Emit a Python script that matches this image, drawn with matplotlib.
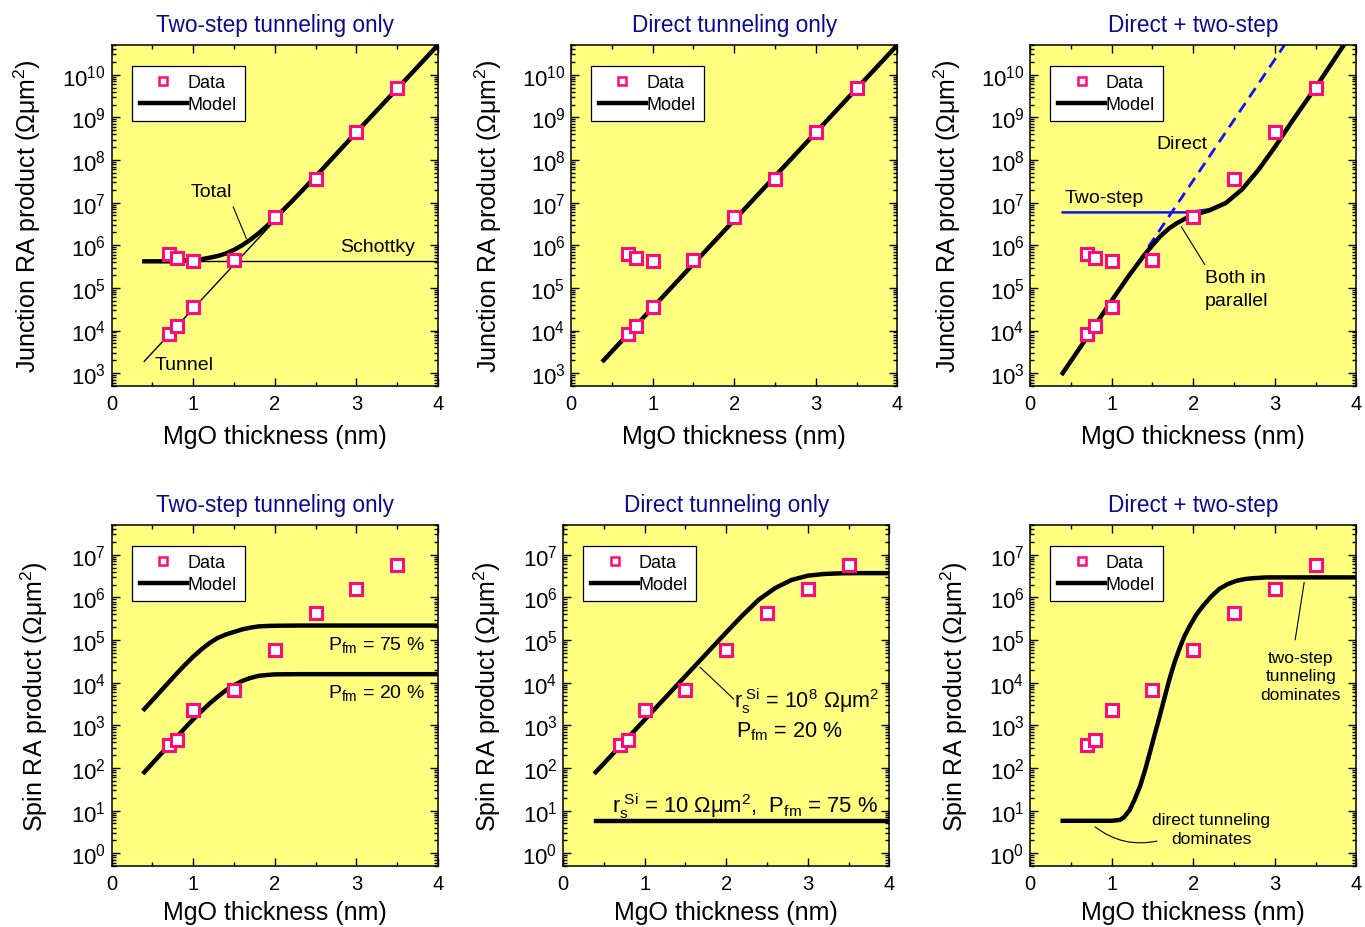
import numpy as np
import matplotlib
matplotlib.use("Agg")
import matplotlib.pyplot as plt
from matplotlib.ticker import LogLocator, MultipleLocator, NullFormatter

plt.rcParams['font.family'] = ['Liberation Sans', 'DejaVu Sans']
plt.rcParams['mathtext.fontset'] = 'custom'
plt.rcParams['mathtext.rm'] = 'Liberation Sans'
plt.rcParams['mathtext.it'] = 'Liberation Sans'

# measured data (same thicknesses for all panels)
t_data = [0.7, 0.8, 1.0, 1.5, 2.0, 2.5, 3.0, 3.5]
ra_upper = [6.4e5, 4.9e5, 4.2e5, 4.5e5, 4.6e6, 3.6e7, 4.6e8, 4.9e9]
t_lower = [0.7, 0.8, 1.0]
ra_lower = [8.4e3, 1.26e4, 3.5e4]
spin_data = [3.5e2, 4.6e2, 2.3e3, 6.8e3, 5.9e4, 4.4e5, 1.6e6, 5.7e6]

# top-left: two-step tunneling only
t_line = [0.4, 4.0]
tunnel_ra = [1.9e3, 5.0e10]
schottky_ra = [4.2e5, 4.2e5]
t_total = [0.4, 0.7, 1.0, 1.1, 1.2, 1.3, 1.4, 1.5, 1.6, 1.7, 1.8, 1.9, 2.0,
           2.2, 2.5, 3.0, 3.5, 4.0]
total_ra = [4.2e5, 4.2e5, 4.5e5, 4.7e5, 5.1e5, 5.6e5, 6.4e5, 7.8e5, 1.0e6,
            1.35e6, 1.9e6, 2.8e6, 4.3e6, 1.03e7, 4.1e7, 4.5e8, 4.7e9, 5.0e10]

# top-middle: direct tunneling only
direct_only_ra = [2.0e3, 5.0e10]

# top-right: direct + two-step
t_direct = [1.45, 3.12]
direct_ra = [9.1e5, 5.0e10]
t_twostep = [0.4, 1.9, 2.0, 2.2, 2.4, 2.6, 2.8, 3.0]
twostep_ra = [5.9e6, 5.9e6, 6.2e6, 7.0e6, 1.0e7, 2.1e7, 6.2e7, 2.1e8]
t_both = [0.4, 0.7, 1.0, 1.2, 1.4, 1.5, 1.6, 1.7, 1.8, 1.9, 2.0, 2.1, 2.2,
          2.4, 2.6, 2.8, 3.0, 3.2, 3.5, 3.84]
both_ra = [1.0e3, 7.0e3, 5.0e4, 1.8e5, 5.9e5, 1.0e6, 1.65e6, 2.45e6, 3.3e6,
           4.2e6, 5.1e6, 5.8e6, 6.6e6, 9.8e6, 2.05e7, 5.9e7, 2.0e8, 7.5e8,
           5.0e9, 4.8e10]

# bottom row curves, read as log10 of the spin RA product
t_spin1 = [0.4, 0.5, 0.6, 0.7, 0.8, 0.9, 1.0, 1.1, 1.2, 1.3, 1.4, 1.5, 1.6,
           1.7, 1.8, 1.9, 2.0, 2.3, 4.0]
spin75_log = [3.38, 3.59, 3.80, 4.01, 4.22, 4.42, 4.61, 4.78, 4.93, 5.05, 5.13,
              5.19, 5.25, 5.29, 5.32, 5.33, 5.335, 5.34, 5.34]
spin20_log = [1.90, 2.11, 2.32, 2.52, 2.73, 2.94, 3.14, 3.33, 3.51, 3.67, 3.82,
              3.94, 4.04, 4.11, 4.16, 4.18, 4.195, 4.20, 4.20]

t_spin2 = [0.4, 0.6, 0.8, 1.0, 1.2, 1.4, 1.6, 1.8, 2.0, 2.2, 2.4, 2.6, 2.8,
           3.0, 3.2, 3.4, 3.6, 4.0]
spin_rs8_log = [1.90, 2.31, 2.72, 3.13, 3.54, 3.95, 4.36, 4.77, 5.18, 5.58,
                5.95, 6.22, 6.41, 6.51, 6.55, 6.565, 6.57, 6.57]
spin_rs10 = [5.6, 5.6]

t_spin3 = [0.4, 1.0, 1.1, 1.15, 1.22, 1.28, 1.35, 1.41, 1.47, 1.53, 1.59,
           1.65, 1.71, 1.77, 1.83, 1.89, 1.96, 2.04, 2.12, 2.22, 2.32, 2.42,
           2.53, 2.63, 2.73, 2.9, 4.0]
spin_both_log = [0.76, 0.76, 0.78, 0.84, 1.01, 1.25, 1.58, 1.95, 2.37, 2.80,
                 3.22, 3.66, 4.09, 4.47, 4.79, 5.08, 5.34, 5.60, 5.80, 6.02,
                 6.20, 6.31, 6.39, 6.43, 6.45, 6.47, 6.47]

BG = '#FFFF80'
PINK = '#FF0A7D'
TITLE_C = '#0A0A8C'
BLUE = '#1010FF'

fig = plt.figure(figsize=(13.65, 9.28), dpi=100)
lefts_top = [0.0818, 0.4183, 0.7546]
lefts_bot = [0.0818, 0.4125, 0.7546]
W, H = 0.2391, 0.3675
axes = []
for bottom, lefts in [(0.583, lefts_top), (0.0657, lefts_bot)]:
    for l in lefts:
        axes.append(fig.add_axes([l, bottom, W, H]))

titles = ["Two-step tunneling only", "Direct tunneling only", "Direct + two-step"] * 2


def style(ax, ylim, ylabel, title, xpad, ypad):
    ax.set_facecolor(BG)
    ax.set_yscale('log')
    ax.set_xlim(0, 4)
    ax.set_ylim(*ylim)
    ax.xaxis.set_major_locator(MultipleLocator(1))
    ax.xaxis.set_minor_locator(MultipleLocator(0.5))
    ax.yaxis.set_major_locator(LogLocator(base=10, numticks=20))
    ax.yaxis.set_minor_locator(LogLocator(base=10, subs=np.arange(2, 10), numticks=20))
    ax.yaxis.set_minor_formatter(NullFormatter())
    ax.tick_params(which='both', direction='in', top=True, right=True, width=1)
    ax.tick_params(which='major', length=6)
    ax.tick_params(which='minor', length=3)
    ax.tick_params(axis='x', labelsize=14.5, pad=6)
    ax.tick_params(axis='y', labelsize=16, pad=4)
    for s in ax.spines.values():
        s.set_linewidth(1.1)
    ax.set_xlabel("MgO thickness (nm)", fontsize=18, labelpad=xpad)
    ax.set_ylabel(ylabel, fontsize=18, labelpad=ypad)
    ax.set_title(title, fontsize=16.3, color=TITLE_C, pad=10)


def data_and_legend(ax, t, y, t2=None, y2=None):
    ax.plot(t, y, 's', ms=9, mfc='white', mec=PINK, mew=2.2, zorder=6)
    if t2 is not None:
        ax.plot(t2, y2, 's', ms=9, mfc='white', mec=PINK, mew=2.2, zorder=6)
    h_data = plt.Line2D([], [], ls='none', marker='s', ms=6, mfc='white', mec=PINK, mew=1.8)
    h_model = plt.Line2D([], [], color='black', lw=3.2)
    leg = ax.legend([h_data, h_model], ['Data', 'Model'], loc='upper left',
                    bbox_to_anchor=(0.061, 0.939), fontsize=13, frameon=True,
                    fancybox=False, edgecolor='black', framealpha=1,
                    handlelength=2.6, handletextpad=0.05, borderpad=0.45,
                    labelspacing=0.3, borderaxespad=0)
    leg.get_frame().set_linewidth(0.9)


junc_lim = (5e2, 5e10)
spin_lim = (0.5, 5e7)
junc_label = r"Junction RA product ($\Omega\mu$m$^2$)"
spin_label = r"Spin RA product ($\Omega\mu$m$^2$)"

# --- top-left
ax = axes[0]
style(ax, junc_lim, junc_label, titles[0], 8, 14)
ax.plot(t_line, tunnel_ra, color='black', lw=1)
ax.plot(t_line, schottky_ra, color='black', lw=1)
ax.plot(t_total, total_ra, color='black', lw=3.2)
data_and_legend(ax, t_data, ra_upper, t_lower, ra_lower)
ax.text(1.22, 10**7.26, "Total", fontsize=14, ha='center', va='center')
ax.plot([1.49, 1.65], [10**6.9, 10**6.16], color='black', lw=0.8)
ax.text(3.26, 10**5.97, "Schottky", fontsize=14, ha='center', va='center')
ax.text(0.53, 10**3.2, "Tunnel", fontsize=14, ha='left', va='center')

# --- top-middle
ax = axes[1]
style(ax, junc_lim, junc_label, titles[1], 8, 13)
ax.plot(t_line, direct_only_ra, color='black', lw=3.2)
data_and_legend(ax, t_data, ra_upper, t_lower, ra_lower)

# --- top-right
ax = axes[2]
style(ax, junc_lim, junc_label, titles[2], 8, 13)
ax.plot(t_direct, direct_ra, color=BLUE, lw=2, ls=(0, (4, 2.5)))
ax.plot(t_twostep, twostep_ra, color=BLUE, lw=1.8)
ax.plot(t_both, both_ra, color='black', lw=3.2)
data_and_legend(ax, t_data, ra_upper, t_lower, ra_lower)
ax.text(1.55, 10**8.38, "Direct", fontsize=14, ha='left', va='center')
ax.text(0.43, 10**7.13, "Two-step", fontsize=14, ha='left', va='center')
ax.plot([1.856, 2.14], [10**6.43, 10**5.55], color='black', lw=0.8)
ax.text(2.14, 10**4.98, "Both in\nparallel", fontsize=14, ha='left', va='center',
        linespacing=1.45)

# --- bottom-left
ax = axes[3]
style(ax, spin_lim, spin_label, titles[3], 5, 15)
ax.plot(t_spin1, 10 ** np.array(spin75_log), color='black', lw=3.2)
ax.plot(t_spin1, 10 ** np.array(spin20_log), color='black', lw=3.2)
data_and_legend(ax, t_data, spin_data)
ax.text(2.65, 10**4.91, r"P$_{\rm fm}$ = 75 %", fontsize=14, ha='left', va='center')
ax.text(2.65, 10**3.78, r"P$_{\rm fm}$ = 20 %", fontsize=14, ha='left', va='center')

# --- bottom-middle
ax = axes[4]
style(ax, spin_lim, spin_label, titles[4], 5, 14)
ax.plot(t_spin2, 10 ** np.array(spin_rs8_log), color='black', lw=3.2)
ax.plot(t_line, spin_rs10, color='black', lw=3.2)
data_and_legend(ax, t_data, spin_data)
ax.plot([1.68, 2.09], [10**4.36, 10**3.62], color='black', lw=0.8)
ax.text(2.1, 10**3.58, r"r$_{\rm s}^{\rm \ Si}$ = 10$^8$ $\Omega\mu$m$^2$",
        fontsize=15.5, ha='left', va='center')
ax.text(2.12, 10**2.87, r"P$_{\rm fm}$ = 20 %", fontsize=15.5, ha='left', va='center')
ax.text(0.6, 10**1.12,
        r"r$_{\rm s}^{\rm \ Si}$ = 10 $\Omega\mu$m$^2$,  P$_{\rm fm}$ = 75 %",
        fontsize=15.8, ha='left', va='center')

# --- bottom-right
ax = axes[5]
style(ax, spin_lim, spin_label, titles[5], 5, 14)
ax.plot(t_spin3, 10 ** np.array(spin_both_log), color='black', lw=3.2)
data_and_legend(ax, t_data, spin_data)
ax.plot([3.36, 3.25], [10**6.35, 10**5.01], color='black', lw=0.8)
ax.text(3.32, 10**4.16, "two-step\ntunneling\ndominates", fontsize=12.5, ha='center',
        va='center', linespacing=1.3)
ax.annotate("", xy=(1.59, 10**0.3), xytext=(0.77, 10**0.66),
            arrowprops=dict(arrowstyle='-', color='black', lw=0.8,
                            connectionstyle='arc3,rad=0.25'))
ax.text(2.22, 10**0.57, "direct tunneling\ndominates", fontsize=12.5, ha='center',
        va='center', linespacing=1.3)

fig.savefig("out.png", dpi=100)
